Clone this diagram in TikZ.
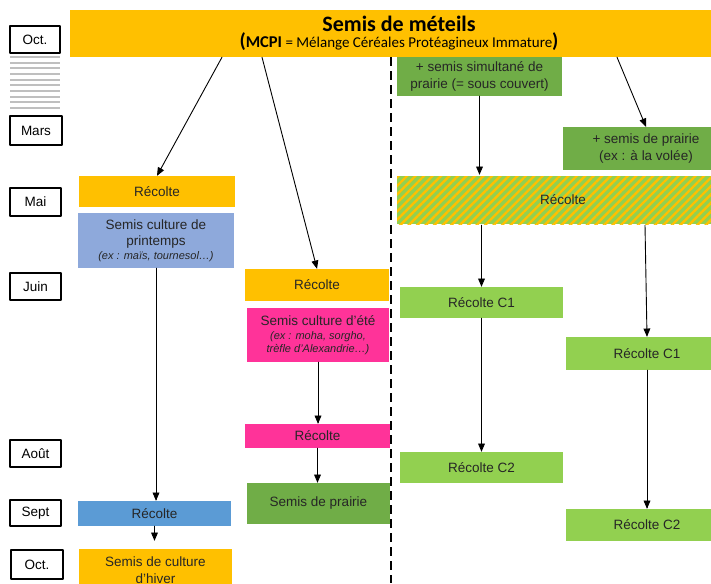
\documentclass[tikz,border=0pt]{standalone}
\usepackage{fontspec}
\setmainfont{Liberation Sans}
\newfontfamily\calibri{Carlito}
\usetikzlibrary{arrows}
\usetikzlibrary{patterns.meta}
\definecolor{jaune}{HTML}{FFC000}
\definecolor{bleuclair}{HTML}{8EA9DB}
\definecolor{bleu}{HTML}{5B9BD5}
\definecolor{rose}{HTML}{FF3399}
\definecolor{vert}{HTML}{70AD47}
\definecolor{vertclair}{HTML}{92D050}
\definecolor{gris}{HTML}{BFBFBF}
\newcommand{\txt}{\fontsize{13.5}{16.5}\selectfont}
\newcommand{\ex}{\fontsize{11}{12.5}\selectfont\itshape}

\begin{document}
\begin{tikzpicture}[line cap=round,line join=round,>=triangle 45,x=1pt,y=-1pt,
  mois/.style={draw,line width=1.2pt,fill=white,font=\txt,inner sep=0pt},
  boite/.style={font=\txt,align=center,inner sep=0pt,text=black!85},
  fleche/.style={->,line width=0.9pt}]
\useasboundingbox (0,0) rectangle (711,583);
\clip (0,0) rectangle (711,583);
% mois
\node[mois,minimum width=50pt,minimum height=27pt] (oct) at (35,39.5) {Oct.};
\foreach \i in {0,...,9}
  \draw[gris,line width=1.8pt,line cap=butt] (10,{57+5.67*\i}) -- (60,{57+5.67*\i});
\node[mois,minimum width=52pt,minimum height=29pt] (mars) at (36,130.5) {Mars};
\node[mois,minimum width=51pt,minimum height=28pt] (mai) at (35.5,202) {Mai};
\node[mois,minimum width=51pt,minimum height=27pt] (juin) at (35.5,286.5) {Juin};
\node[mois,minimum width=51pt,minimum height=27pt] (aout) at (35.5,453.5) {Août};
\node[mois,minimum width=51pt,minimum height=26pt] (sept) at (35.5,513) {Sept};
\node[mois,minimum width=52pt,minimum height=29pt] (oct2) at (37,564.5) {Oct.};
% titre
\node[fill=jaune,minimum width=658pt,minimum height=47pt,align=center,inner sep=0pt] (titre) at (399,33.5)
  {{\calibri\fontsize{22}{24}\selectfont\bfseries Semis de méteils}\\
   {\calibri\fontsize{20}{22}\selectfont\bfseries(}{\calibri\fontsize{16.5}{18}\selectfont\bfseries MCPI}{\calibri\fontsize{15}{18}\selectfont{} = Mélange Céréales Protéagineux Immature}{\calibri\fontsize{20}{22}\selectfont\bfseries)}};
% colonne printemps
\node[boite,fill=jaune,minimum width=156pt,minimum height=31pt] (rec1) at (157,191.5) {Récolte};
\node[boite,fill=bleuclair,minimum width=156pt,minimum height=55pt] (printemps) at (156,240.5)
  {Semis culture de\\printemps\\[-3pt]\ex(ex : maïs, tournesol…)};
\node[boite,fill=bleu,minimum width=153pt,minimum height=25pt] (recS) at (154.5,513.5) {Récolte};
\node[boite,fill=jaune,minimum width=153pt,minimum height=42pt] (hiver) at (155.5,570) {Semis de culture\\d'hiver};
% colonne ete
\node[boite,fill=jaune,minimum width=144pt,minimum height=32pt] (recE) at (317,285) {Récolte};
\node[boite,fill=rose,minimum width=142pt,minimum height=54pt] (ete) at (318,335)
  {Semis culture d'été\\[-2pt]\ex(ex : moha, sorgho,\\[-4pt]\ex trèfle d'Alexandrie…)};
\node[boite,fill=rose,minimum width=145pt,minimum height=24pt] (recP) at (317.5,436) {Récolte};
\node[boite,fill=vert,minimum width=143pt,minimum height=41pt] (prairie) at (318.5,503.5) {Semis de prairie};
% sous couvert
\node[boite,fill=vert,minimum width=165pt,minimum height=39pt] (simul) at (479.5,76.5) {+ semis simultané de\\prairie (= sous couvert)};
\node[boite,fill=vert,minimum width=166pt,minimum height=43pt] (volee) at (646,148.5) {+ semis de prairie\\(ex : à la volée)};
\node[boite,minimum width=332pt,minimum height=48pt,preaction={fill=vertclair},
  pattern={Lines[angle=45,distance=6pt,line width=2.4pt]},pattern color=jaune] (recM) at (563,200) {Récolte};
\node[boite,fill=vertclair,minimum width=163pt,minimum height=31pt] (c1a) at (481.5,302.5) {Récolte C1};
\node[boite,fill=vertclair,minimum width=162pt,minimum height=33pt] (c1b) at (647,353.5) {Récolte C1};
\node[boite,fill=vertclair,minimum width=163pt,minimum height=31pt] (c2a) at (481.5,467.5) {Récolte C2};
\node[boite,fill=vertclair,minimum width=162pt,minimum height=32pt] (c2b) at (647,525) {Récolte C2};
% separation
\coordinate (bas) at (391,583);
\draw[line width=2.5pt,line cap=butt,dash pattern=on 9pt off 5pt] (titre.south -| bas) -- (bas);
% fleches
\draw[fleche] ([xshift=-177pt]titre.south) -- (rec1.north);
\draw[fleche] ([xshift=-137pt]titre.south) -- (recE.north);
\draw[fleche] ([xshift=218pt]titre.south) -- (volee.north);
\draw[fleche] (printemps.south) -- (printemps.south |- recS.north);
\draw[fleche,shorten >=8pt] (recS.south) -- (recS.south |- hiver.north);
\draw[fleche] (ete.south) -- (ete.south |- recP.north);
\draw[fleche] (recP.south) -- (recP.south |- prairie.north);
\draw[fleche] (simul.south) -- (simul.south |- recM.north);
\draw[fleche] (c1a.north |- recM.south) -- (c1a.north);
\draw[fleche] ([xshift=-2pt]c1b.north |- recM.south) -- (c1b.north);
\draw[fleche] (c1a.south) -- (c2a.north);
\draw[fleche] (c1b.south) -- (c2b.north);
\end{tikzpicture}
\end{document}
